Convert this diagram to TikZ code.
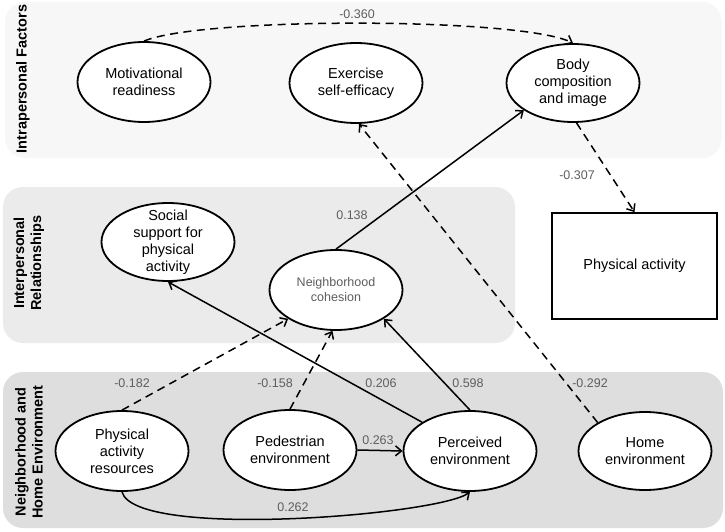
\documentclass[tikz,border=0pt]{standalone}
\usepackage{fontspec}
\setmainfont{Liberation Sans}
\usetikzlibrary{shapes.geometric,arrows.meta}

\definecolor{intraback}{HTML}{F7F7F7}
\definecolor{interback}{HTML}{EBEBEB}
\definecolor{envback}{HTML}{DEDEDE}
\definecolor{coefgray}{HTML}{5E5E5E}

\tikzset{
    factor/.style={draw, ellipse, line width=1.8pt, fill=white, minimum width=133pt,
        minimum height=80pt, inner sep=0pt, align=center,
        font=\fontsize{14.5}{17}\selectfont},
    coef/.style={text=coefgray, font=\fontsize{12.5}{14}\selectfont},
    effect/.style={line width=1.5pt, -{Straight Barb[length=6pt,width=10pt]}},
    negeffect/.style={effect, dash pattern=on 8pt off 5.5pt},
    sidelabel/.style={rotate=90, align=center, font=\bfseries\fontsize{14.5}{17}\selectfont}
}

\begin{document}
\begin{tikzpicture}[x=1pt,y=-1pt]
    \useasboundingbox (0,0) rectangle (725,532);
    % panels
    \fill[intraback, rounded corners=20pt] (5,2) rectangle (722,158);
    \fill[interback, rounded corners=20pt] (3,187) rectangle (515,343);
    \fill[envback, rounded corners=20pt] (3,372) rectangle (723,528);
    \node[sidelabel] (intra) at (23,79) {Intrapersonal Factors};
    \node[sidelabel] (inter) at (29,263) {Interpersonal\\Relationships};
    \node[sidelabel] (env) at (29,452) {Neighborhood and\\Home Environment};

    % factors
    \node[factor] (motiv) at (144,82) {Motivational\\readiness};
    \node[factor] (exer) at (356,83) {Exercise\\self-efficacy};
    \node[factor, minimum height=78pt] (body) at (573,83) {Body\\composition\\and image};
    \node[factor, minimum height=78pt, inner ysep=-7pt] (social) at (168,242) {Social\\support for\\physical\\activity};
    \node[factor, text=coefgray, font=\fontsize{12.5}{15}\selectfont] (coh) at (336,290) {Neighborhood\\cohesion};
    \node[factor] (pares) at (122,451) {Physical\\activity\\resources};
    \node[factor] (ped) at (290,450) {Pedestrian\\environment};
    \node[factor] (perc) at (470,451) {Perceived\\environment};
    \node[factor, minimum height=78pt] (home) at (645,451) {Home\\environment};
    \node[draw, line width=1.8pt, fill=white, minimum width=165pt, minimum height=106pt,
        font=\fontsize{14.5}{17}\selectfont] (pa) at (634.5,266) {Physical activity};

    % paths
    \draw[negeffect] (motiv.north) .. controls (200,17) and (520,17) .. (body.north);
    \node[coef] (c1) at (357,14) {-0.360};
    \draw[negeffect] (body.-85) -- (pa.north);
    \node[coef] (c2) at (577,175) {-0.307};
    \draw[effect] (coh.north) -- (body.209);
    \node[coef] (c3) at (352,215) {0.138};
    \draw[negeffect] (home.149) -- (exer.274);
    \node[coef] (c4) at (590,383) {-0.292};
    \draw[effect] (perc.149) -- (social.south);
    \node[coef] (c5) at (381,383) {0.206};
    \draw[effect] (perc.north) -- (coh.329);
    \node[coef] (c6) at (468,383) {0.598};
    \draw[negeffect] (pares.north) -- (coh.211);
    \node[coef] (c7) at (132,383) {-0.182};
    \draw[negeffect] (ped.north) -- (coh.265);
    \node[coef] (c8) at (275,383) {-0.158};
    \draw[effect] (ped.east) -- (perc.west);
    \node[coef] (c9) at (378,440) {0.263};
    \draw[effect] (pares.south) .. controls (135,540) and (440,515) .. (perc.south);
    \node[coef] (c10) at (293,507) {0.262};
\end{tikzpicture}
\end{document}
